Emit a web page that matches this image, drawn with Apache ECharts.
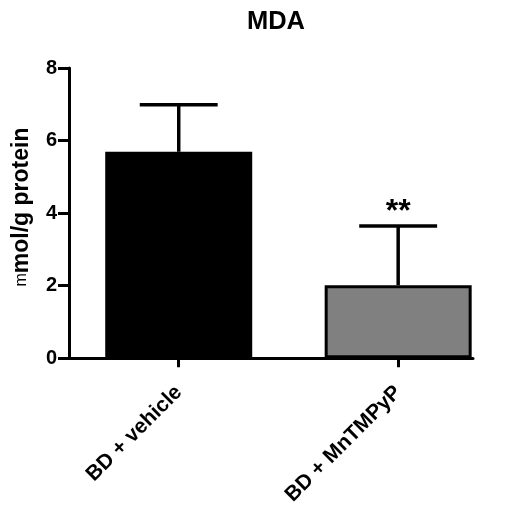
<!DOCTYPE html>
<html>
<head>
<meta charset="utf-8">
<script src="https://cdn.jsdelivr.net/npm/echarts@6/dist/echarts.min.js"></script>
<style>html,body{margin:0;padding:0;background:#fff}#c{width:505px;height:508px}</style>
</head>
<body>
<div id="c"></div>
<script>
const titleText = 'MDA';
const categories = ['BD + vehicle', 'BD + MnTMPyP'];
const means = [5.69, 2.01];
const errors = [1.30, 1.63];
const barColors = ['#000000', '#808080'];
const significance = ['', '**'];
const yTicks = [0, 2, 4, 6, 8];

const FONT = '"Liberation Sans", Arial, sans-serif';
const chart = echarts.init(document.getElementById('c'), null, {renderer: 'canvas'});

const barData = means.map((v, i) => ({
  value: [i, v],
  itemStyle: {color: barColors[i], borderColor: '#000', borderWidth: 3}
}));
const errData = means.map((v, i) => [i, v, errors[i], i]);

chart.setOption({
  animation: false,
  title: {
    text: titleText, left: 271, top: 4, textAlign: 'center',
    textStyle: {fontFamily: FONT, fontWeight: 'bold', fontSize: 25.5, color: '#000'}
  },
  grid: {left: 69, right: 32, top: 68, bottom: 148, containLabel: false},
  xAxis: {
    type: 'value', min: -0.5, max: 1.341,
    axisLine: {show: true, onZero: false, lineStyle: {color: '#000', width: 3}},
    axisTick: {show: true, customValues: [0, 1], length: 9, lineStyle: {color: '#000', width: 3}},
    axisLabel: {
      customValues: [0, 1], rotate: 45, margin: 31,
      formatter: v => categories[Math.round(v)] || '',
      fontFamily: FONT, fontWeight: 'bold', fontSize: 21, color: '#000'
    },
    splitLine: {show: false}
  },
  yAxis: {
    type: 'value', min: 0, max: 8, interval: 2,
    name: '{s|m}mol/g protein', nameLocation: 'middle', nameRotate: 90, nameGap: 36,
    nameTextStyle: {
      fontFamily: FONT, fontWeight: 'bold', fontSize: 23, color: '#000',
      padding: [0, 0, 0, 12],
      rich: {s: {fontFamily: FONT, fontSize: 16, fontWeight: 'normal', color: '#000'}}
    },
    axisLine: {show: true, onZero: false, lineStyle: {color: '#000', width: 3}},
    axisTick: {show: true, length: 11, lineStyle: {color: '#000', width: 3}},
    axisLabel: {
      margin: 12, fontFamily: FONT, fontWeight: 'bold', fontSize: 20, color: '#000',
      formatter: v => yTicks.includes(v) ? String(v) : ''
    },
    splitLine: {show: false}
  },
  series: [
    {
      type: 'custom',
      data: errData,
      z: 1,
      renderItem: (params, api) => {
        const x = api.value(0), m = api.value(1), e = api.value(2), idx = api.value(3);
        const p0 = api.coord([x, m]);
        const p1 = api.coord([x, m + e]);
        const half = api.size([0.355, 0])[0] / 2;
        const style = {stroke: '#000', lineWidth: 3.5};
        const children = [
          {type: 'line', shape: {x1: p0[0], y1: p0[1], x2: p1[0], y2: p1[1]}, style},
          {type: 'line', shape: {x1: p1[0] - half, y1: p1[1], x2: p1[0] + half, y2: p1[1]}, style}
        ];
        if (significance[idx]) {
          children.push({
            type: 'text', x: p1[0], y: p1[1] - 14,
            style: {text: significance[idx], fontFamily: FONT, fontWeight: 'bold', fontSize: 32,
                    fill: '#000', align: 'center', verticalAlign: 'middle'}
          });
        }
        return {type: 'group', children};
      }
    },
    {
      type: 'bar',
      data: barData,
      barWidth: 147,
      z: 2
    }
  ]
});
</script>
</body>
</html>
